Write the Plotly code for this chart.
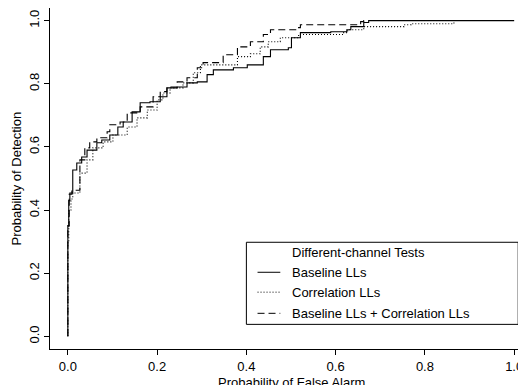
import plotly.graph_objects as go

# ROC curves (probability of false alarm, probability of detection)
baseline_pfa = [0.0, 0.0, 0.002, 0.0045, 0.011, 0.020, 0.031, 0.043, 0.065, 0.076, 0.094, 0.112, 0.124,
                0.144, 0.162, 0.184, 0.207, 0.222, 0.245, 0.267, 0.290, 0.312, 0.326, 0.371, 0.402, 0.438,
                0.454, 0.494, 0.501, 0.521, 0.589, 0.625, 0.634, 0.658, 0.663, 0.674, 1.0]
baseline_pd = [0.0, 0.35, 0.43, 0.454, 0.527, 0.549, 0.568, 0.590, 0.613, 0.622, 0.638, 0.663, 0.679,
               0.711, 0.740, 0.743, 0.759, 0.787, 0.790, 0.803, 0.806, 0.829, 0.844, 0.851, 0.860, 0.886,
               0.908, 0.914, 0.946, 0.962, 0.965, 0.971, 0.981, 0.981, 0.994, 1.0, 1.0]

corr_pfa = [0.0, 0.0, 0.002, 0.007, 0.011, 0.027, 0.043, 0.056, 0.079, 0.101, 0.133, 0.155, 0.178, 0.200,
            0.213, 0.229, 0.258, 0.281, 0.297, 0.364, 0.380, 0.409, 0.431, 0.449, 0.476, 0.499, 0.517,
            0.618, 0.627, 0.656, 0.663, 0.746, 0.753, 0.769, 0.865]
corr_pd = [0.0, 0.30, 0.40, 0.435, 0.454, 0.517, 0.559, 0.597, 0.616, 0.638, 0.663, 0.692, 0.717, 0.749,
           0.771, 0.787, 0.803, 0.835, 0.860, 0.860, 0.886, 0.895, 0.917, 0.933, 0.946, 0.946, 0.956,
           0.962, 0.971, 0.971, 0.981, 0.981, 0.987, 0.990, 0.994]

combo_pfa = [0.0, 0.0, 0.003, 0.009, 0.027, 0.038, 0.049, 0.065, 0.088, 0.094, 0.117, 0.133, 0.162, 0.191,
             0.207, 0.222, 0.245, 0.267, 0.290, 0.303, 0.348, 0.380, 0.409, 0.438, 0.454, 0.512, 0.521,
             0.645, 0.656, 0.663, 0.670]
combo_pd = [0.0, 0.35, 0.45, 0.463, 0.559, 0.597, 0.616, 0.629, 0.648, 0.670, 0.679, 0.708, 0.727, 0.759,
            0.775, 0.790, 0.806, 0.819, 0.851, 0.867, 0.892, 0.917, 0.933, 0.956, 0.971, 0.978, 0.987,
            0.987, 0.997, 1.0, 1.0]

series_names = ["Baseline LLs", "Correlation LLs", "Baseline LLs + Correlation LLs"]
series_dash = ["solid", "1px,2px", "7px,4px"]
legend_title = "Different-channel Tests"
tick_vals = [0.0, 0.2, 0.4, 0.6, 0.8, 1.0]
tick_text = ["0.0", "0.2", "0.4", "0.6", "0.8", "1.0"]
x_title = "Probability of False Alarm"
y_title = "Probability of Detection"

FONT = "Liberation Sans, Arial, Helvetica, sans-serif"
FS = 13

# page body has an 8px margin, so the figure is offset by (8, 8) in the window
W, H = 518, 377
L, R, T, B = 42, 0, 0.4, 36.4
XR = [-0.04, 1.0265]
YR = [-0.04, 1.04]


def px(xd):
    return (xd - XR[0]) / (XR[1] - XR[0])


def py(yd):
    return (yd - YR[0]) / (YR[1] - YR[0])


fig = go.Figure()
data = [(baseline_pfa, baseline_pd), (corr_pfa, corr_pd), (combo_pfa, combo_pd)]
for (xs, ys), name, dash in zip(data, series_names, series_dash):
    fig.add_trace(go.Scatter(x=xs, y=ys, mode="lines", name=name,
                             line=dict(color="black", width=1.1, dash=dash, shape="hv"),
                             showlegend=False))

# legend drawn in data coordinates
lx0, lx1, ly0, ly1 = 0.40, 1.009, 0.038, 0.298
fig.add_shape(type="rect", x0=lx0, x1=lx1, y0=ly0, y1=ly1, xref="x", yref="y",
              line=dict(color="black", width=1), fillcolor="white", layer="above")
row_y = [0.203, 0.140, 0.073]
fig.add_annotation(x=px(0.497), y=py(0.267), xref="paper", yref="paper", text=legend_title, showarrow=False,
                   xanchor="left", yanchor="middle", font=dict(size=FS, color="black", family=FONT))
for ry, name, dash in zip(row_y, series_names, series_dash):
    fig.add_shape(type="line", x0=0.425, x1=0.476, y0=ry, y1=ry, xref="x", yref="y",
                  line=dict(color="black", width=1, dash=dash), layer="above")
    fig.add_annotation(x=px(0.497), y=py(ry), xref="paper", yref="paper", text=name, showarrow=False,
                       xanchor="left", yanchor="middle", font=dict(size=FS, color="black", family=FONT))

# axis titles
fig.add_annotation(x=px(0.5), y=py(-0.145), xref="paper", yref="paper", text=x_title, showarrow=False,
                   xanchor="center", yanchor="middle", font=dict(size=FS, color="black", family=FONT))
fig.add_annotation(x=px(-0.114), y=py(0.5), xref="paper", yref="paper", text=y_title, showarrow=False,
                   textangle=-90, xanchor="center", yanchor="middle",
                   font=dict(size=FS, color="black", family=FONT))

fig.update_layout(
    width=W, height=H,
    margin=dict(l=L, r=R, t=T, b=B, autoexpand=False),
    paper_bgcolor="white", plot_bgcolor="white",
    font=dict(family=FONT, size=FS, color="black"),
    showlegend=False,
    xaxis=dict(range=XR, showgrid=False, zeroline=False, automargin=False,
               showline=True, linecolor="black", linewidth=1, mirror=True,
               ticks="outside", ticklen=5, tickcolor="black",
               tickvals=tick_vals, ticktext=tick_text, tickfont=dict(size=FS)),
    yaxis=dict(range=YR, showgrid=False, zeroline=False, automargin=False,
               showline=True, linecolor="black", linewidth=1,
               ticks="outside", ticklen=5, tickcolor="black", tickangle=-90,
               tickvals=tick_vals, ticktext=tick_text, tickfont=dict(size=FS)),
)

fig.write_html("out.html")
